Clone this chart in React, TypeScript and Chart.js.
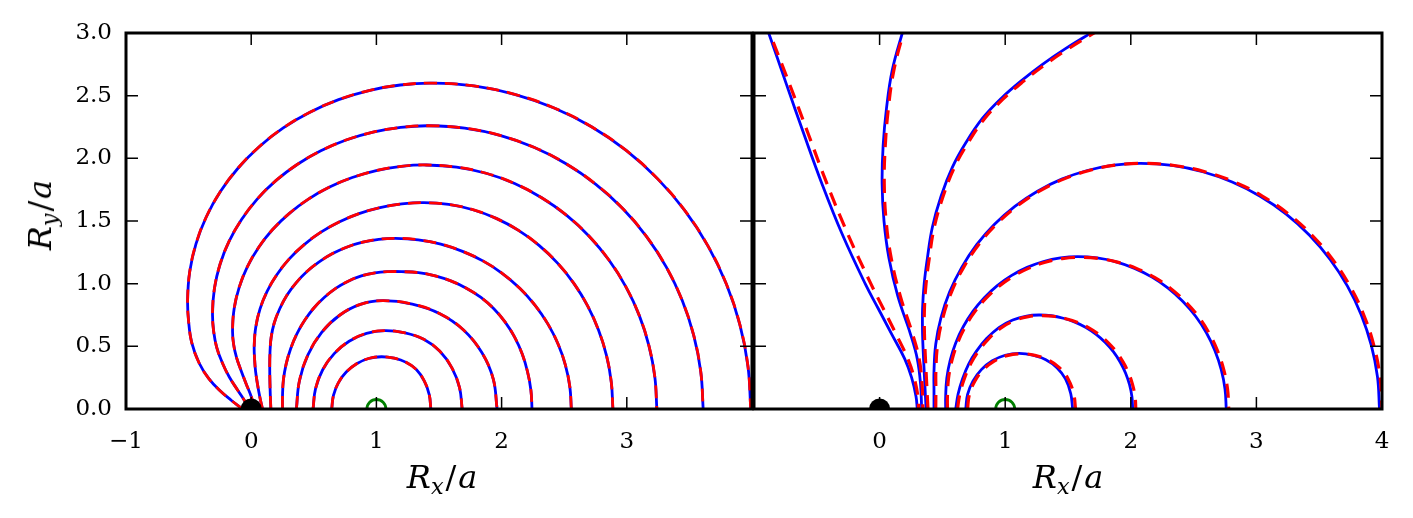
import React, { useEffect, useRef } from "react";
import { Chart, registerables } from "chart.js";
Chart.register(...registerables);

type Pt = [number, number];

// ---- axes ----
const xTickValues = [-1, 0, 1, 2, 3, 4];
const leftXLabels = ["−1", "0", "1", "2", "3", ""];
const rightXLabels = ["", "0", "1", "2", "3", "4"];
const yTickValues = [0, 0.5, 1, 1.5, 2, 2.5, 3];
const yLabels = ["0.0", "0.5", "1.0", "1.5", "2.0", "2.5", "3.0"];

// ---- markers ----
const sourcePoint: Pt[] = [[0, 0]];
const targetPoint: Pt[] = [[1, 0]];

// ---- left panel curves (solid blue and dashed red coincide) ----
const leftCurve1: Pt[] = [[0.643,0],[0.657,0.108],[0.696,0.209],[0.759,0.295],[0.842,0.361],[0.937,0.403],[1.04,0.417],[1.142,0.405],[1.238,0.372],[1.319,0.315],[1.382,0.225],[1.422,0.115],[1.435,0]];
const leftCurve2: Pt[] = [[0.494,0],[0.514,0.162],[0.571,0.313],[0.663,0.442],[0.782,0.541],[0.921,0.604],[1.07,0.625],[1.229,0.607],[1.378,0.556],[1.505,0.462],[1.603,0.328],[1.664,0.17],[1.685,0]];
const leftCurve3: Pt[] = [[0.361,0],[0.385,0.224],[0.453,0.432],[0.563,0.611],[0.706,0.748],[0.872,0.835],[1.05,0.864],[1.287,0.837],[1.507,0.76],[1.696,0.63],[1.842,0.45],[1.933,0.24],[1.964,0]];
const leftCurve4: Pt[] = [[0.25,0],[0.25,0.1],[0.257,0.23],[0.279,0.358],[0.315,0.481],[0.364,0.598],[0.426,0.706],[0.499,0.804],[0.583,0.89],[0.675,0.963],[0.775,1.02],[0.88,1.062],[0.989,1.087],[1.1,1.096],[1.2,1.096],[1.336,1.088],[1.47,1.062],[1.599,1.02],[1.722,0.962],[1.835,0.89],[1.938,0.8],[2.027,0.695],[2.103,0.575],[2.164,0.44],[2.207,0.297],[2.234,0.15],[2.243,0]];
const leftCurve5: Pt[] = [[0.157,0],[0.153,0.1],[0.15,0.2],[0.148,0.33],[0.15,0.45],[0.159,0.569],[0.184,0.686],[0.228,0.8],[0.284,0.906],[0.357,1.005],[0.443,1.095],[0.54,1.172],[0.65,1.24],[0.767,1.293],[0.891,1.331],[1.019,1.354],[1.15,1.362],[1.334,1.35],[1.514,1.316],[1.688,1.258],[1.854,1.18],[2.007,1.081],[2.145,0.963],[2.266,0.829],[2.368,0.681],[2.45,0.521],[2.509,0.353],[2.545,0.178],[2.557,0]];
const leftCurve6: Pt[] = [[0.09,0],[0.068,0.1],[0.05,0.2],[0.035,0.3],[0.027,0.4],[0.024,0.5],[0.036,0.65],[0.07,0.797],[0.127,0.939],[0.206,1.073],[0.304,1.198],[0.421,1.31],[0.554,1.409],[0.702,1.492],[0.861,1.559],[1.029,1.607],[1.203,1.636],[1.38,1.646],[1.577,1.632],[1.771,1.59],[1.957,1.521],[2.135,1.425],[2.299,1.306],[2.447,1.164],[2.577,1.002],[2.687,0.823],[2.774,0.63],[2.838,0.426],[2.876,0.215],[2.889,0]];
const leftCurve7: Pt[] = [[0.03,0],[0.0,0.1],[-0.04,0.2],[-0.082,0.31],[-0.117,0.41],[-0.141,0.52],[-0.149,0.63],[-0.136,0.802],[-0.096,0.971],[-0.031,1.134],[0.059,1.289],[0.171,1.432],[0.305,1.561],[0.457,1.675],[0.626,1.771],[0.807,1.847],[0.999,1.902],[1.198,1.936],[1.4,1.947],[1.64,1.93],[1.876,1.881],[2.104,1.799],[2.32,1.686],[2.52,1.545],[2.701,1.377],[2.86,1.185],[2.993,0.974],[3.1,0.745],[3.177,0.504],[3.224,0.254],[3.24,0]];
const leftCurve8: Pt[] = [[-0.01,0],[-0.055,0.07],[-0.109,0.152],[-0.175,0.255],[-0.229,0.365],[-0.275,0.49],[-0.3,0.62],[-0.309,0.764],[-0.294,0.959],[-0.25,1.151],[-0.177,1.337],[-0.077,1.512],[0.048,1.675],[0.197,1.822],[0.367,1.951],[0.556,2.06],[0.758,2.146],[0.973,2.209],[1.194,2.247],[1.42,2.26],[1.706,2.241],[1.987,2.183],[2.258,2.088],[2.515,1.957],[2.753,1.793],[2.969,1.598],[3.158,1.376],[3.317,1.13],[3.443,0.865],[3.535,0.585],[3.591,0.295],[3.61,0]];
const leftCurve9: Pt[] = [[-0.069,0],[-0.16,0.07],[-0.255,0.152],[-0.34,0.245],[-0.415,0.365],[-0.475,0.53],[-0.5,0.7],[-0.508,0.87],[-0.491,1.096],[-0.441,1.318],[-0.359,1.532],[-0.246,1.735],[-0.104,1.923],[0.064,2.093],[0.256,2.243],[0.469,2.368],[0.698,2.468],[0.94,2.541],[1.191,2.585],[1.446,2.6],[1.778,2.578],[2.104,2.511],[2.42,2.402],[2.718,2.252],[2.995,2.063],[3.245,1.838],[3.464,1.583],[3.649,1.3],[3.796,0.995],[3.903,0.673],[3.968,0.339],[3.99,0]];

// ---- right panel curves: solid blue ----
const rightBlue1: Pt[] = [[-0.92,3.1],[-0.883,3.0],[-0.745,2.6],[-0.605,2.2],[-0.46,1.8],[-0.3,1.4],[-0.115,1.0],[-0.01,0.8],[0.095,0.6],[0.2,0.4],[0.255,0.25],[0.29,0.1],[0.3,0]];
const rightBlue2: Pt[] = [[0.215,3.1],[0.181,3.0],[0.1,2.7],[0.055,2.4],[0.028,2.1],[0.02,1.8],[0.035,1.5],[0.075,1.2],[0.145,0.9],[0.245,0.6],[0.3,0.4],[0.326,0.2],[0.335,0]];
const rightBlue3: Pt[] = [[0.37,0],[0.36,0.2],[0.35,0.4],[0.342,0.6],[0.342,0.8],[0.355,1.0],[0.38,1.2],[0.42,1.45],[0.49,1.7],[0.58,1.93],[0.69,2.13],[0.82,2.32],[0.97,2.48],[1.13,2.62],[1.3,2.752],[1.48,2.875],[1.683,3.0],[1.9,3.13]];
const rightBlue4: Pt[] = [[0.433,0],[0.433,0.15],[0.433,0.3],[0.447,0.517],[0.489,0.73],[0.558,0.935],[0.654,1.13],[0.773,1.311],[0.915,1.474],[1.077,1.617],[1.257,1.738],[1.45,1.834],[1.654,1.903],[1.865,1.946],[2.08,1.96],[2.328,1.943],[2.572,1.893],[2.807,1.811],[3.03,1.697],[3.237,1.555],[3.423,1.386],[3.587,1.193],[3.725,0.98],[3.835,0.75],[3.915,0.507],[3.964,0.256],[3.98,0]];
const rightBlue5: Pt[] = [[0.526,0],[0.526,0.1],[0.535,0.246],[0.562,0.389],[0.606,0.527],[0.667,0.658],[0.743,0.779],[0.834,0.888],[0.937,0.985],[1.052,1.066],[1.175,1.13],[1.305,1.177],[1.44,1.205],[1.577,1.215],[1.731,1.205],[1.883,1.174],[2.03,1.122],[2.169,1.052],[2.297,0.964],[2.413,0.859],[2.516,0.74],[2.602,0.608],[2.67,0.465],[2.72,0.314],[2.75,0.159],[2.76,0]];
const rightBlue6: Pt[] = [[0.606,0],[0.625,0.12],[0.66,0.24],[0.71,0.36],[0.77,0.46],[0.85,0.56],[0.95,0.65],[1.06,0.71],[1.17,0.742],[1.27,0.75],[1.367,0.744],[1.463,0.724],[1.555,0.693],[1.643,0.65],[1.724,0.595],[1.797,0.53],[1.861,0.457],[1.915,0.375],[1.958,0.287],[1.99,0.194],[2.009,0.098],[2.015,0]];
const rightBlue7: Pt[] = [[0.686,0],[0.7,0.115],[0.743,0.222],[0.81,0.314],[0.898,0.385],[1.0,0.429],[1.11,0.444],[1.22,0.43],[1.3235,0.393],[1.412,0.33],[1.48,0.24],[1.522,0.122],[1.537,0]];

// ---- right panel curves: dashed red ----
const rightRed1: Pt[] = [[-0.91,3.1],[-0.875,3.0],[-0.72,2.6],[-0.57,2.2],[-0.42,1.8],[-0.255,1.4],[-0.07,1.0],[0.03,0.8],[0.13,0.6],[0.225,0.4],[0.275,0.25],[0.305,0.1],[0.31,0]];
const rightRed2: Pt[] = [[0.225,3.1],[0.19,3.0],[0.113,2.7],[0.07,2.4],[0.045,2.1],[0.037,1.8],[0.052,1.5],[0.093,1.2],[0.165,0.9],[0.262,0.6],[0.315,0.4],[0.338,0.2],[0.345,0]];
const rightRed3: Pt[] = [[0.385,0],[0.375,0.2],[0.365,0.4],[0.357,0.6],[0.357,0.8],[0.37,1.0],[0.395,1.2],[0.435,1.45],[0.505,1.695],[0.594,1.924],[0.703,2.122],[0.832,2.312],[0.982,2.472],[1.142,2.612],[1.312,2.744],[1.492,2.867],[1.695,2.992],[1.91,3.12]];
const rightRed4: Pt[] = [[0.447,0],[0.448,0.15],[0.448,0.3],[0.462,0.517],[0.504,0.73],[0.573,0.935],[0.669,1.13],[0.788,1.311],[0.93,1.474],[1.092,1.617],[1.272,1.738],[1.465,1.834],[1.669,1.903],[1.88,1.946],[2.095,1.96],[2.345,1.943],[2.59,1.893],[2.826,1.811],[3.05,1.697],[3.257,1.555],[3.443,1.386],[3.607,1.193],[3.745,0.98],[3.855,0.75],[3.935,0.507],[3.984,0.256],[4.0,0]];
const rightRed5: Pt[] = [[0.54,0],[0.54,0.1],[0.549,0.246],[0.576,0.389],[0.62,0.525],[0.681,0.655],[0.757,0.775],[0.848,0.884],[0.951,0.98],[1.066,1.06],[1.189,1.124],[1.319,1.171],[1.454,1.2],[1.59,1.21],[1.747,1.2],[1.901,1.17],[2.049,1.12],[2.189,1.05],[2.317,0.962],[2.433,0.858],[2.536,0.74],[2.622,0.608],[2.69,0.465],[2.74,0.314],[2.77,0.159],[2.78,0]];
const rightRed6: Pt[] = [[0.62,0],[0.639,0.12],[0.674,0.24],[0.724,0.358],[0.784,0.457],[0.864,0.556],[0.964,0.645],[1.074,0.705],[1.184,0.737],[1.284,0.745],[1.385,0.74],[1.483,0.72],[1.577,0.69],[1.666,0.647],[1.748,0.593],[1.821,0.528],[1.885,0.456],[1.939,0.374],[1.982,0.287],[2.014,0.194],[2.034,0.098],[2.04,0]];
const rightRed7: Pt[] = [[0.7,0],[0.715,0.115],[0.758,0.222],[0.825,0.312],[0.912,0.382],[1.014,0.426],[1.124,0.441],[1.236,0.428],[1.341,0.392],[1.431,0.33],[1.501,0.24],[1.545,0.122],[1.56,0]];

const leftCurves = [leftCurve1, leftCurve2, leftCurve3, leftCurve4, leftCurve5, leftCurve6, leftCurve7, leftCurve8, leftCurve9];
const rightBlueCurves = [rightBlue1, rightBlue2, rightBlue3, rightBlue4, rightBlue5, rightBlue6, rightBlue7];
const rightRedCurves = [rightRed1, rightRed2, rightRed3, rightRed4, rightRed5, rightRed6, rightRed7];

const FONT = '"DejaVu Serif", serif';
const toXY = (pts: Pt[]) => pts.map(([x, y]) => ({ x, y }));

function buildDatasets(blue: Pt[][], red: Pt[][], isLeft: boolean) {
  const ds: any[] = [];
  ds.push({ data: toXY(sourcePoint), showLine: false, pointRadius: 10.5, pointBackgroundColor: "#000000", pointBorderWidth: 0, order: 0, clip: 0 });
  ds.push({ data: toXY(targetPoint), showLine: false, pointRadius: 9.5, pointBackgroundColor: "rgba(0,0,0,0)", pointBorderColor: "#008000", pointBorderWidth: 2.8, order: 0, clip: 0 });
  red.forEach((c) =>
    ds.push({
      data: toXY(c),
      showLine: true,
      borderColor: "#ff0000",
      borderWidth: isLeft ? 2.8 : 3.2,
      borderDash: isLeft ? [13, 8] : [14, 9],
      pointRadius: 0,
      tension: 0.4,
      fill: false,
      order: 1,
    })
  );
  blue.forEach((c) =>
    ds.push({ data: toXY(c), showLine: true, borderColor: "#0000ff", borderWidth: 2.8, pointRadius: 0, tension: 0.4, fill: false, order: 2 })
  );
  return ds;
}

const framePlugin = {
  id: "frameTicks",
  afterDatasetsDraw(chart: any) {
    const { ctx, chartArea } = chart;
    const { left, right, top, bottom } = chartArea;
    const xs = chart.scales.x;
    const ys = chart.scales.y;
    const L = 12;
    ctx.save();
    ctx.strokeStyle = "#000";
    ctx.lineWidth = 1.5;
    ctx.beginPath();
    xTickValues.forEach((v) => {
      const px = xs.getPixelForValue(v);
      if (px <= left + 3 || px >= right - 3) return;
      ctx.moveTo(px, bottom);
      ctx.lineTo(px, bottom - L);
      ctx.moveTo(px, top);
      ctx.lineTo(px, top + L);
    });
    yTickValues.forEach((v) => {
      const py = ys.getPixelForValue(v);
      if (py <= top + 3 || py >= bottom - 3) return;
      ctx.moveTo(left, py);
      ctx.lineTo(left + L, py);
      ctx.moveTo(right, py);
      ctx.lineTo(right - L, py);
    });
    ctx.stroke();
    ctx.lineWidth = 3;
    ctx.strokeRect(left, top, right - left, bottom - top);
    ctx.restore();
  },
};

function makeConfig(side: "left" | "right"): any {
  const isLeft = side === "left";
  const xLabels = isLeft ? leftXLabels : rightXLabels;
  return {
    type: "scatter",
    data: {
      datasets: isLeft ? buildDatasets(leftCurves, leftCurves, true) : buildDatasets(rightBlueCurves, rightRedCurves, false),
    },
    options: {
      animation: false,
      responsive: false,
      events: [],
      layout: { padding: { top: 33, right: isLeft ? 28 : 31, left: 0, bottom: 0 }, autoPadding: false },
      plugins: { legend: { display: false }, tooltip: { enabled: false } },
      scales: {
        x: {
          type: "linear",
          min: -1,
          max: 4,
          grid: { display: false, drawTicks: false },
          border: { display: false },
          ticks: {
            stepSize: 1,
            padding: 19,
            color: "#000",
            maxRotation: 0,
            autoSkip: false,
            font: { family: FONT, size: 23 },
            callback: (v: any) => {
              const i = xTickValues.indexOf(Number(v));
              return i >= 0 ? xLabels[i] : "";
            },
          },
          afterFit: (s: any) => {
            s.height = 109;
          },
        },
        y: {
          type: "linear",
          min: 0,
          max: 3,
          grid: { display: false, drawTicks: false },
          border: { display: false },
          ticks: {
            display: isLeft,
            stepSize: 0.5,
            padding: 14,
            color: "#000",
            font: { family: FONT, size: 23 },
            callback: (v: any) => {
              const i = yTickValues.indexOf(Number(v));
              return i >= 0 ? yLabels[i] : "";
            },
          },
          afterFit: (s: any) => {
            s.width = isLeft ? 126 : 28;
          },
        },
      },
    },
    plugins: [framePlugin],
  };
}

function Panel({ side, left, width }: { side: "left" | "right"; left: number; width: number }) {
  const ref = useRef<HTMLCanvasElement | null>(null);
  useEffect(() => {
    if (!ref.current) return;
    const chart = new Chart(ref.current, makeConfig(side));
    return () => chart.destroy();
  }, [side]);
  return (
    <canvas
      ref={ref}
      width={width}
      height={518}
      style={{ position: "absolute", left, top: 0, width, height: 518 }}
    />
  );
}

function AxisTitle({ sub, style }: { sub: string; style: React.CSSProperties }) {
  return (
    <div
      style={{
        position: "absolute",
        fontFamily: FONT,
        fontSize: 32,
        lineHeight: 1,
        color: "#000",
        whiteSpace: "nowrap",
        ...style,
      }}
    >
      <span style={{ fontStyle: "italic" }}>R</span>
      <span style={{ fontStyle: "italic", fontSize: "0.7em", position: "relative", top: "0.28em" }}>{sub}</span>
      <span style={{ margin: "0 0.06em" }}>/</span>
      <span style={{ fontStyle: "italic" }}>a</span>
    </div>
  );
}

export default function App() {
  return (
    <div style={{ position: "absolute", left: 0, top: 0, width: 1413, height: 518, background: "#fff", overflow: "hidden" }}>
      <Panel side="left" left={0} width={780} />
      <Panel side="right" left={726} width={687} />
      <AxisTitle sub="x" style={{ left: 442, top: 477, transform: "translate(-50%, -50%)" }} />
      <AxisTitle sub="x" style={{ left: 1068, top: 477, transform: "translate(-50%, -50%)" }} />
      <AxisTitle sub="y" style={{ left: 40, top: 215, transform: "translate(-50%, -50%) rotate(-90deg)" }} />
    </div>
  );
}
